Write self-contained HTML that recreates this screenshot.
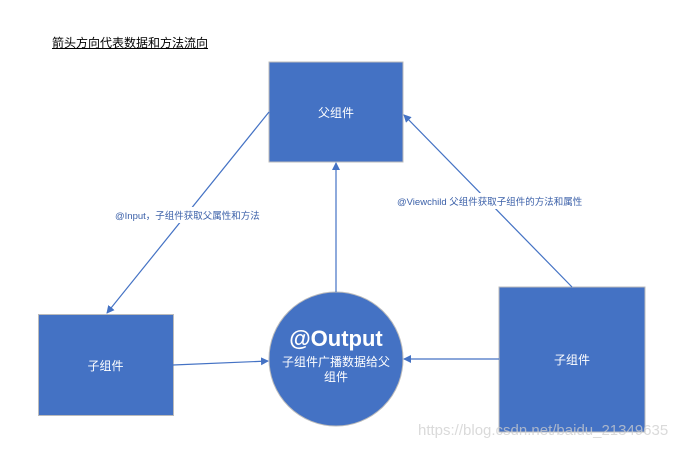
<!DOCTYPE html>
<html><head><meta charset="utf-8"><style>
body{margin:0;width:693px;height:451px;background:#fff;overflow:hidden;position:relative;font-family:"Liberation Sans","Noto Sans CJK SC",sans-serif}
.t{position:absolute;white-space:nowrap}
</style></head><body>
<svg width="693" height="451" style="position:absolute;left:0;top:0">
<defs><marker id="a" markerWidth="8" markerHeight="8" refX="7" refY="4" orient="auto" markerUnits="userSpaceOnUse"><path d="M0,0 L8,4 L0,8 z" fill="#4472c4"/></marker></defs>
<rect x="269" y="62" width="134" height="100" fill="#4472c4" stroke="#bbb" stroke-width="1"/>
<rect x="38.5" y="314.5" width="135" height="101" fill="#4472c4" stroke="#bbb" stroke-width="1"/>
<rect x="499" y="287" width="146" height="145" fill="#4472c4" stroke="#bbb" stroke-width="1"/>
<circle cx="336" cy="359" r="67" fill="#4472c4" stroke="#bbb" stroke-width="1"/>
<g stroke="#4472c4" stroke-width="1.2" fill="none" marker-end="url(#a)">
<line x1="269" y1="112" x2="107" y2="313"/>
<line x1="336" y1="292" x2="336" y2="163"/>
<line x1="572" y1="287" x2="404" y2="115"/>
<line x1="173" y1="365" x2="268" y2="361"/>
<line x1="499" y1="359" x2="404" y2="359"/>
</g>
</svg>
<div class="t" style="left:52px;top:34px;font-size:12px;text-decoration:underline;color:#000">箭头方向代表数据和方法流向</div>
<div class="t" style="left:269px;top:104px;width:134px;text-align:center;color:#fff;font-size:12px">父组件</div>
<div class="t" style="left:38px;top:357px;width:135px;text-align:center;color:#fff;font-size:12px">子组件</div>
<div class="t" style="left:499px;top:351px;width:146px;text-align:center;color:#fff;font-size:12px">子组件</div>
<div class="t" style="left:269px;top:326px;width:134px;text-align:center;color:#fff;font-size:22px;font-weight:bold">@Output</div>
<div class="t" style="left:279px;top:355px;width:114px;text-align:center;color:#fff;font-size:12px;white-space:normal;line-height:15px">子组件广播数据给父组件</div>
<div class="t" style="left:115px;top:207px;font-size:9.5px;color:#3a5fa8;background:#fff;padding:1px 0">@Input，子组件获取父属性和方法</div>
<div class="t" style="left:397px;top:193px;font-size:9.5px;color:#3a5fa8;background:#fff;padding:1px 0">@Viewchild 父组件获取子组件的方法和属性</div>
<div class="t" style="left:418px;top:422px;font-size:15px;color:rgba(205,205,205,0.75)">https://blog.csdn.net/baidu_21349635</div>
</body></html>
